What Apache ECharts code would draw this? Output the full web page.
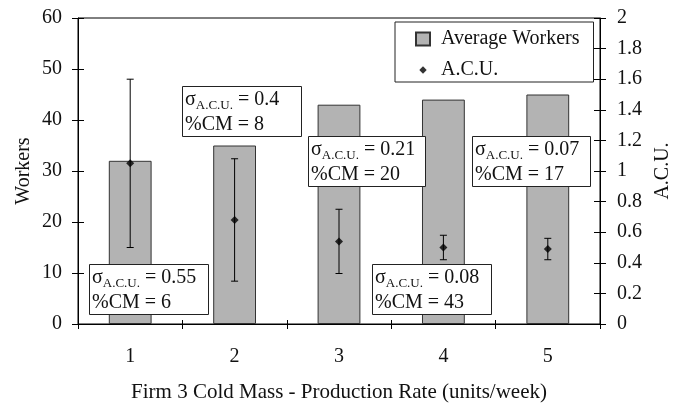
<!DOCTYPE html>
<html><head><meta charset="utf-8">
<script src="https://cdn.jsdelivr.net/npm/echarts@6/dist/echarts.min.js"></script>
<style>html,body{margin:0;padding:0;background:#fff}#c{width:683px;height:403px}</style>
</head><body><div id="c"></div>
<script>
const categories = ['1', '2', '3', '4', '5'];
const avgWorkers = [32, 35, 43, 44, 45];
const acu = [1.05, 0.68, 0.54, 0.5, 0.49];
const acuSigma = [0.55, 0.4, 0.21, 0.08, 0.07];
const cmPct = [6, 8, 20, 43, 17];

const FONT = '"Liberation Serif", "Times New Roman", serif';
const TXT = '#111';

// annotation box layout (pixels): one per category
const boxLayout = [
  [89, 264, 119, 50],
  [182, 86, 119, 50],
  [308, 136, 117, 50],
  [372, 264, 119, 50],
  [472, 136, 118, 50]
];

const annotations = [];
boxLayout.forEach((b, i) => {
  annotations.push({
    type: 'rect', left: b[0], top: b[1], z: 100, zlevel: 1,
    shape: { x: 0, y: 0, width: b[2], height: b[3] },
    style: { fill: '#fff', stroke: '#222', lineWidth: 1 }
  });
  annotations.push({
    type: 'text', left: b[0] + 3, top: b[1] + 4, z: 101, zlevel: 1,
    style: {
      text: '{m|σ}{sub|A.C.U.}{m| = ' + acuSigma[i] + '}\n{m|%CM = ' + cmPct[i] + '}',
      fill: TXT,
      rich: {
        m: { fontFamily: FONT, fontSize: 20, lineHeight: 25, fill: TXT },
        sub: { fontFamily: FONT, fontSize: 13, lineHeight: 17, verticalAlign: 'bottom', fill: TXT }
      }
    }
  });
});

const chart = echarts.init(document.getElementById('c'));
const axisLine = { show: true, lineStyle: { color: '#000', width: 1 } };
const labelStyle = { fontFamily: FONT, fontSize: 20, color: TXT };

chart.setOption({
  animation: false,
  backgroundColor: '#fff',
  grid: { left: 78, right: 83, top: 18, bottom: 79, containLabel: false, outerBoundsMode: 'none',
    show: true, borderColor: '#000', borderWidth: 1, backgroundColor: 'transparent' },
  legend: {
    data: [
      { name: 'Average Workers', icon: 'rect' },
      { name: 'A.C.U.', icon: 'path://M0,0M14,14M7,3L11,7L7,11L3,7Z' }
    ],
    orient: 'vertical', left: 395, top: 22,
    itemWidth: 14, itemHeight: 13, itemGap: 11,
    padding: [7, 14, 2, 20],
    borderColor: '#222', borderWidth: 1, backgroundColor: '#fff',
    textStyle: { fontFamily: FONT, fontSize: 20, color: TXT, padding: [0, 0, 0, 6] },
    selectedMode: false, z: 100
  },
  xAxis: [
    { type: 'category', data: categories, boundaryGap: true, position: 'bottom',
      axisLine: axisLine, axisTick: { show: true, length: 5, lineStyle: { color: '#000' } },
      axisLabel: Object.assign({ margin: 23 }, labelStyle),
      name: 'Firm 3 Cold Mass - Production Rate (units/week)', nameLocation: 'middle', nameGap: 58,
      nameTextStyle: { fontFamily: FONT, fontSize: 21, color: TXT },
      splitLine: { show: false } },
    { type: 'category', data: categories, boundaryGap: true, position: 'bottom',
      axisLine: { show: false }, axisTick: { show: true, inside: true, length: 4, lineStyle: { color: '#000' } },
      axisLabel: { show: false }, splitLine: { show: false } }
  ],
  yAxis: [
    { type: 'value', position: 'left', min: 0, max: 60, interval: 10,
      axisLine: axisLine, axisTick: { show: true, length: 6, lineStyle: { color: '#000' } },
      axisLabel: Object.assign({ margin: 16 }, labelStyle),
      name: 'Workers', nameLocation: 'middle', nameGap: 44, nameMoveOverlap: false,
      nameTextStyle: { fontFamily: FONT, fontSize: 20, color: TXT },
      splitLine: { show: false } },
    { type: 'value', position: 'right', min: 0, max: 2, interval: 0.2,
      axisLine: axisLine, axisTick: { show: true, length: 6, lineStyle: { color: '#000' } },
      axisLabel: Object.assign({ margin: 17 }, labelStyle),
      name: 'A.C.U.', nameLocation: 'middle', nameGap: 48,
      nameTextStyle: { fontFamily: FONT, fontSize: 20, color: TXT },
      splitLine: { show: false } },
    { type: 'value', position: 'left', min: 0, max: 60, interval: 10,
      axisLine: { show: false }, axisTick: { show: true, inside: true, length: 6, lineStyle: { color: '#000' } },
      axisLabel: { show: false }, splitLine: { show: false } },
    { type: 'value', position: 'right', min: 0, max: 2, interval: 0.2,
      axisLine: { show: false }, axisTick: { show: true, inside: true, length: 6, lineStyle: { color: '#000' } },
      axisLabel: { show: false }, splitLine: { show: false } }
  ],
  series: [
    { name: 'Average Workers', type: 'bar', data: avgWorkers, barWidth: '41%',
      itemStyle: { color: '#b3b3b3', borderColor: '#333', borderWidth: 1 }, z: 2 },
    { name: 'errors', type: 'custom', yAxisIndex: 1, z: 3,
      data: categories.map((c, i) => [i, acu[i] - acuSigma[i], acu[i] + acuSigma[i]]),
      encode: { x: 0, y: [1, 2] },
      renderItem: function (params, api) {
        const x = api.value(0);
        const lo = api.coord([x, api.value(1)]);
        const hi = api.coord([x, api.value(2)]);
        const hw = 3.5;
        const st = { stroke: '#000', lineWidth: 1 };
        return { type: 'group', children: [
          { type: 'line', shape: { x1: hi[0], y1: hi[1], x2: lo[0], y2: lo[1] }, style: st },
          { type: 'line', shape: { x1: hi[0] - hw, y1: hi[1], x2: hi[0] + hw, y2: hi[1] }, style: st },
          { type: 'line', shape: { x1: lo[0] - hw, y1: lo[1], x2: lo[0] + hw, y2: lo[1] }, style: st }
        ] };
      } },
    { name: 'A.C.U.', type: 'scatter', yAxisIndex: 1, data: acu, symbol: 'diamond', symbolSize: 8,
      itemStyle: { color: '#000' }, z: 4 }
  ],
  graphic: annotations
});
</script>
</body></html>
